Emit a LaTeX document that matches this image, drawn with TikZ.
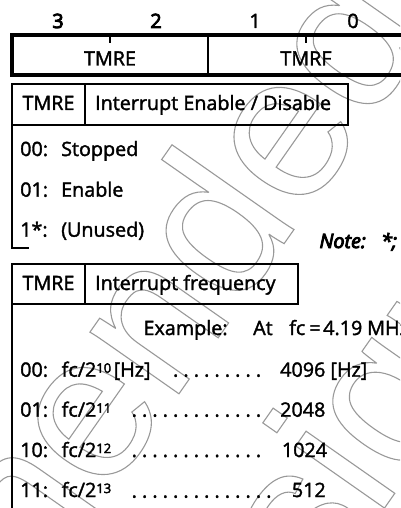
\documentclass[tikz,border=0pt]{standalone}
\usepackage{fontspec}
\setmainfont{Open Sans}
\newfontfamily\wmfont{Liberation Sans}
\newcommand\wmtext[1]{\special{pdf:literal direct 1 Tr 1.1 w}#1\special{pdf:literal direct 0 Tr}}
\newcommand\heavy[2]{\special{pdf:literal direct 2 Tr #1 w}#2\special{pdf:literal direct 0 Tr}}
\newcommand\supnum[1]{\raisebox{4pt}{\fontsize{13}{13}\selectfont #1}}
\begin{document}
\begin{tikzpicture}[x=1pt,y=-1pt,
  txt/.style={inner sep=0pt, anchor=base west, font=\fontsize{19.75}{23}\selectfont,
    execute at begin node={\special{pdf:literal direct 2 Tr 0.35 w}},
    execute at end node={\special{pdf:literal direct 0 Tr}}},
  ctxt/.style={txt, anchor=base},
  thinline/.style={line width=2pt, line cap=rect},
  thickline/.style={line width=4pt},
  wm/.style={inner sep=0pt, anchor=base east, rotate=55, text=black!40,
    font=\wmfont\fontsize{205}{245}\selectfont}]
\useasboundingbox (0,0) rectangle (400,508);
% watermark
\begin{scope}
  \clip (0,0) rectangle (400,508);
  \node[wm] (wmA) at (432.7,31.4) {\wmtext{Not Recommended}};
  \node[wm] (wmB) at (533.8,294.8) {\wmtext{for New Design}};
\end{scope}
% register box
\draw[thickline] (12,34.7) rectangle (420,74.7);
\draw[line width=2.5pt] (208,34.7) -- (208,74.7);
\draw[line width=1.5pt] (110,34.7) -- (110,43);
\draw[line width=1.5pt] (306,34.7) -- (306,43);
% table 1
\draw[thinline] (12,84) rectangle (347.7,124.7);
\draw[thinline] (85,84) -- (85,124.7);
\draw[thinline] (12,124.7) -- (12,248) -- (28,248);
% table 2
\draw[thinline] (12,264) rectangle (298,303.7);
\draw[thinline] (85,264) -- (85,303.7);
\draw[thinline] (12,303.7) -- (12,515);
% bit numbers
\node[ctxt] (b3) at (58,28) {\heavy{0.9}{3}};
\node[ctxt] (b2) at (156,28) {\heavy{0.9}{2}};
\node[ctxt] (b1) at (255,28) {1};
\node[ctxt] (b0) at (353,28) {0};
\node[ctxt] (rTMRE) at (110,65.5) {TMRE};
\node[ctxt] (rTMRF) at (306,65.5) {TMRF};
% table 1 texts
\node[ctxt] (t1a) at (48.5,110) {TMRE};
\node[txt] (t1b) at (95,110) {Interrupt Enable / Disable};
\node[txt] (s00) at (20,156) {00:};
\node[txt] (s00t) at (61,156) {Stopped};
\node[txt] (s01) at (20,196.7) {01:};
\node[txt] (s01t) at (61,196.7) {Enable};
\node[txt] (s1x) at (20,236.7) {1*:};
\node[txt] (s1xt) at (61,236.7) {(Unused)};
\node[txt, font=\fontsize{19.75}{23}\selectfont\itshape] (note) at (319.3,248) {\heavy{0.9}{Note:}};
\node[txt, font=\fontsize{19.75}{23}\selectfont\itshape] (note2) at (381,248) {\heavy{0.9}{*;}};
% table 2 texts
\node[ctxt] (t2a) at (48.5,290) {TMRE};
\node[txt] (t2b) at (95,290) {Interrupt frequency};
\node[txt] (ex) at (143.3,335) {Example:};
\node[txt] (exa) at (253,335) {At};
\node[txt] (exb) at (289,335) {fc};
\node[ctxt] (exc) at (315,335) {=};
\node[txt] (exd) at (323,335) {4.19};
\node[txt] (exe) at (367,335) {MHz};
% rows
\node[txt] (f00) at (20,376.7) {00:};
\node[txt] (f00t) at (61.5,376.7) {fc/2\supnum{10}\hspace{2.5pt}[Hz]};
\node[txt] (f00v) at (280,376.7) {4096 [Hz]};
\node[txt] (f01) at (20,416.7) {01:};
\node[txt] (f01t) at (61.5,416.7) {fc/2\supnum{11}};
\node[txt] (f01v) at (280,416.7) {2048};
\node[txt] (f10) at (20,457) {10:};
\node[txt] (f10t) at (61.5,457) {fc/2\supnum{12}};
\node[txt] (f10v) at (281.7,457) {1024};
\node[txt] (f11) at (20,497) {11:};
\node[txt] (f11t) at (61.5,497) {fc/2\supnum{13}};
\node[txt] (f11v) at (291.7,497) {512};
% leader dots
\foreach \i in {0,...,8} \node[ctxt] (da\i) at (175.7+10.35*\i,376.7) {.};
\foreach \i in {0,...,12} \node[ctxt] (db\i) at (134.3+10.35*\i,416.7) {.};
\foreach \i in {0,...,12} \node[ctxt] (dc\i) at (134.3+10.35*\i,457) {.};
\foreach \i in {0,...,13} \node[ctxt] (dd\i) at (134.3+10.35*\i,497.7) {.};
\end{tikzpicture}
\end{document}
